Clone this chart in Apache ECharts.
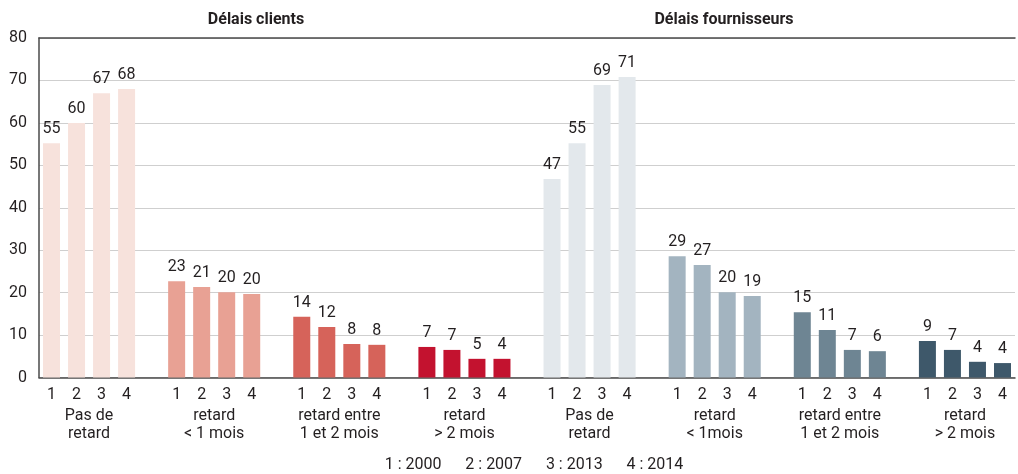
<!DOCTYPE html>
<html>
<head>
<meta charset="utf-8">
<script src="https://cdn.jsdelivr.net/npm/echarts@6/dist/echarts.min.js"></script>
<style>
html,body{margin:0;padding:0;background:#fff;}
#chart{width:1018px;height:474px;}
</style>
</head>
<body>
<div id="chart"></div>
<script>
// ---- data ----
const yearTicks = ['1', '2', '3', '4'];
const yearLegend = ['1 : 2000', '2 : 2007', '3 : 2013', '4 : 2014'];
const panelTitles = ['Délais clients', 'Délais fournisseurs'];
const groupNames = [
  'Pas de\nretard', 'retard\n< 1 mois', 'retard entre\n1 et 2 mois', 'retard\n> 2 mois',
  'Pas de\nretard', 'retard\n< 1mois', 'retard entre\n1 et 2 mois', 'retard\n> 2 mois'
];
// bar heights
const clientsNoDelay   = [55.2, 60.0, 67.0, 68.0];
const clientsLt1       = [22.7, 21.3, 20.1, 19.7];
const clients1to2      = [14.3, 11.9, 7.9, 7.7];
const clientsGt2       = [7.2, 6.5, 4.4, 4.4];
const suppliersNoDelay = [46.8, 55.2, 68.9, 70.8];
const suppliersLt1     = [28.6, 26.5, 20.1, 19.2];
const suppliers1to2    = [15.4, 11.2, 6.5, 6.2];
const suppliersGt2     = [8.6, 6.5, 3.7, 3.4];
// printed value labels
const clientsNoDelayLbl   = ['55', '60', '67', '68'];
const clientsLt1Lbl       = ['23', '21', '20', '20'];
const clients1to2Lbl      = ['14', '12', '8', '8'];
const clientsGt2Lbl       = ['7', '7', '5', '4'];
const suppliersNoDelayLbl = ['47', '55', '69', '71'];
const suppliersLt1Lbl     = ['29', '27', '20', '19'];
const suppliers1to2Lbl    = ['15', '11', '7', '6'];
const suppliersGt2Lbl     = ['9', '7', '4', '4'];
const groupColors = ['#f7e2dc', '#e8a194', '#d6635a', '#c3122f', '#e3e8ec', '#a3b4c0', '#6e8593', '#3e586a'];
const yTicks = { min: 0, max: 80, interval: 10 };

// ---- build ----
const groupValues = [clientsNoDelay, clientsLt1, clients1to2, clientsGt2, suppliersNoDelay, suppliersLt1, suppliers1to2, suppliersGt2];
const groupLabels = [clientsNoDelayLbl, clientsLt1Lbl, clients1to2Lbl, clientsGt2Lbl, suppliersNoDelayLbl, suppliersLt1Lbl, suppliers1to2Lbl, suppliersGt2Lbl];
const slotCats = [], slotData = [], slotLbl = [];
groupValues.forEach((vals, g) => {
  vals.forEach((v, i) => {
    slotCats.push(yearTicks[i]);
    slotData.push({ value: v, itemStyle: { color: groupColors[g] } });
    slotLbl.push(groupLabels[g][i]);
  });
  if (g < groupValues.length - 1) { slotCats.push(''); slotData.push('-'); slotLbl.push(''); }
});
// half-slot axis for group labels (boundaryGap false)
const nSlots = slotCats.length;
const halfCats = [];
for (let j = 0; j <= nSlots * 2; j++) halfCats.push('');
groupNames.forEach((name, g) => { halfCats[4 + 10 * g] = name; });

const FONT = 'Roboto, "Liberation Sans", sans-serif';
const TXT = '#231f20';
const AX = '#4a4a4a';

const chart = echarts.init(document.getElementById('chart'), null, { renderer: 'canvas' });
chart.setOption({
  animation: false,
  backgroundColor: '#fff',
  textStyle: { fontFamily: FONT },
  grid: { left: 39, top: 38, width: 981, height: 339.5, containLabel: false },
  xAxis: [
    {
      type: 'category', data: slotCats, position: 'bottom',
      axisLine: { show: true, lineStyle: { color: AX, width: 1.5 } },
      axisTick: { show: false },
      axisLabel: { interval: 0, fontSize: 16, color: TXT, margin: 9, fontFamily: FONT }
    },
    {
      type: 'category', data: halfCats, position: 'bottom', boundaryGap: false, offset: 21,
      axisLine: { show: false }, axisTick: { show: false }, splitLine: { show: false },
      axisLabel: { interval: 0, fontSize: 16, lineHeight: 18, color: TXT, margin: 8, fontFamily: FONT }
    },
    {
      type: 'category', data: slotCats, position: 'top',
      axisLine: { show: true, lineStyle: { color: AX, width: 1.5 } },
      axisTick: { show: false }, axisLabel: { show: false }
    }
  ],
  yAxis: {
    type: 'value', min: yTicks.min, max: yTicks.max, interval: yTicks.interval,
    axisLine: { show: true, lineStyle: { color: AX, width: 1.5 } },
    axisTick: { show: false },
    splitLine: { show: true, lineStyle: { color: '#cfcfcf', width: 1 } },
    axisLabel: { fontSize: 16, color: TXT, margin: 12, fontFamily: FONT }
  },
  series: [{
    type: 'bar', xAxisIndex: 0, data: slotData, barWidth: 17,
    label: {
      show: true, position: 'top', distance: 6, fontSize: 16, color: TXT, fontFamily: FONT,
      formatter: p => slotLbl[p.dataIndex]
    }
  }],
  graphic: [
    { type: 'text', x: 256, y: 20, style: { text: panelTitles[0], font: 'bold 16px ' + FONT, fill: TXT, textAlign: 'center', textVerticalAlign: 'middle' } },
    { type: 'text', x: 724, y: 20, style: { text: panelTitles[1], font: 'bold 16px ' + FONT, fill: TXT, textAlign: 'center', textVerticalAlign: 'middle' } },
    { type: 'text', x: 534, y: 465, style: { text: yearLegend.join('\u00a0\u00a0\u00a0\u00a0\u00a0\u00a0'), font: '16px ' + FONT, fill: TXT, textAlign: 'center', textVerticalAlign: 'middle' } }
  ]
});
</script>
</body>
</html>
